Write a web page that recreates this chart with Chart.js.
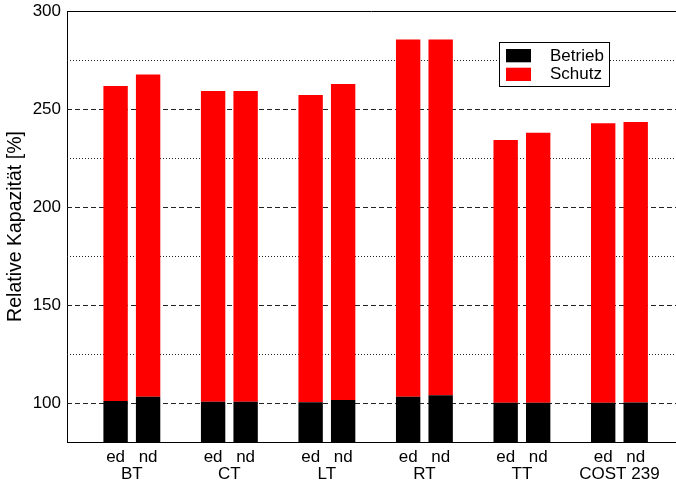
<!DOCTYPE html>
<html>
<head>
<meta charset="utf-8">
<script src="https://cdn.jsdelivr.net/npm/chart.js@4/dist/chart.umd.min.js"></script>
<style>
  html, body { margin: 0; padding: 0; background: #fff; }
  #wrap { width: 676px; height: 485px; }
</style>
</head>
<body>
<div id="wrap"><canvas id="chart" width="676" height="485"></canvas></div>
<script>
// data
const groups = ['BT', 'CT', 'LT', 'RT', 'TT', 'COST 239'];
const variants = ['ed', 'nd'];
const betriebEd = [100.9, 100.5, 100.3, 103.1, 100.0, 100.0];
const betriebNd = [103.1, 100.5, 101.5, 103.8, 100.0, 100.2];
const schutzEd = [160.8, 158.7, 156.8, 182.3, 134.2, 142.7];
const schutzNd = [164.5, 158.7, 161.2, 181.6, 137.9, 143.2];
const yTicks = [100, 150, 200, 250, 300];
const yMinor = [125, 175, 225, 275];

const FONT = '"Liberation Sans", Arial, Helvetica, sans-serif';
Chart.defaults.font.family = FONT;
Chart.defaults.color = '#000';

// x position of each bar: group index, ed slightly left, nd slightly right
const barX = (i, v) => i + 1 + (v === 0 ? -1 / 6 : 1 / 6);
const toPoints = (ed, nd) => groups.flatMap((g, i) => [
    { x: barX(i, 0), y: ed[i] },
    { x: barX(i, 1), y: nd[i] }
]);
const barTicks = groups.flatMap((g, i) => [barX(i, 0), barX(i, 1)]);

const gridPlugin = {
    id: 'matlabGrid',
    beforeDatasetsDraw(chart) {
        const { ctx, chartArea } = chart;
        const y = chart.scales.y;
        ctx.save();
        ctx.lineWidth = 1;
        ctx.strokeStyle = '#222';
        yTicks.filter(v => v < 300).forEach(v => {
            const py = Math.round(y.getPixelForValue(v)) + 0.5;
            ctx.setLineDash([5, 3]);
            ctx.beginPath();
            ctx.moveTo(chartArea.left, py);
            ctx.lineTo(chartArea.right, py);
            ctx.stroke();
        });
        yMinor.forEach(v => {
            const py = Math.round(y.getPixelForValue(v)) + 0.5;
            ctx.setLineDash([1, 2]);
            ctx.beginPath();
            ctx.moveTo(chartArea.left, py);
            ctx.lineTo(chartArea.right, py);
            ctx.stroke();
        });
        // top frame
        ctx.setLineDash([]);
        ctx.strokeStyle = '#000';
        const top = Math.round(y.getPixelForValue(300)) + 0.5;
        ctx.beginPath();
        ctx.moveTo(chartArea.left, top);
        ctx.lineTo(chartArea.right, top);
        ctx.stroke();
        ctx.restore();
    },
    afterDraw(chart) {
        // legend box in the upper right
        const { ctx } = chart;
        ctx.save();
        ctx.fillStyle = '#fff';
        ctx.fillRect(499.5, 42.5, 110, 44);
        ctx.strokeStyle = '#000';
        ctx.lineWidth = 1;
        ctx.strokeRect(499.5, 42.5, 110, 44);
        chart.data.datasets.forEach((ds, k) => {
            const yy = 49 + k * 18.7;
            ctx.fillStyle = ds.backgroundColor;
            ctx.fillRect(506, yy, 25, 13.3);
            ctx.fillStyle = '#000';
            ctx.font = '17px ' + FONT;
            ctx.textBaseline = 'middle';
            ctx.textAlign = 'left';
            ctx.fillText(ds.label, 550, yy + 7);
        });
        ctx.restore();
    }
};

new Chart(document.getElementById('chart'), {
    type: 'bar',
    data: {
        datasets: [{
            label: 'Betrieb',
            data: toPoints(betriebEd, betriebNd),
            backgroundColor: '#000000',
            borderWidth: 0
        }, {
            label: 'Schutz',
            data: toPoints(schutzEd, schutzNd),
            backgroundColor: '#ff0000',
            borderWidth: 0
        }]
    },
    options: {
        responsive: false,
        animation: false,
        barPercentage: 0.75,
        categoryPercentage: 1,
        layout: { padding: { top: 11, right: 0, bottom: 0, left: 0 } },
        plugins: {
            legend: { display: false },
            tooltip: { enabled: false }
        },
        scales: {
            x: {
                type: 'linear',
                stacked: true,
                offset: false,
                min: 0.335,
                max: 6.58,
                position: 'bottom',
                weight: 0,
                afterBuildTicks: s => { s.ticks = barTicks.map(v => ({ value: v })); },
                afterFit: s => { s.height = 23; s.paddingLeft = 0; s.paddingRight = 0; },
                ticks: {
                    callback: (v, i) => variants[i % 2],
                    font: { size: 17, lineHeight: 1 },
                    padding: 7,
                    maxRotation: 0,
                    autoSkip: false
                },
                grid: { display: false, drawTicks: false, offset: false },
                border: { display: true, color: '#000', width: 1 }
            },
            x2: {
                type: 'linear',
                offset: false,
                min: 0.335,
                max: 6.58,
                position: 'bottom',
                weight: 1,
                afterBuildTicks: s => { s.ticks = groups.map((g, i) => ({ value: i + 1 })); },
                afterFit: s => { s.height = 20; s.paddingLeft = 0; s.paddingRight = 0; },
                ticks: {
                    callback: (v, i) => groups[i],
                    font: { size: 17, lineHeight: 1 },
                    padding: 1,
                    maxRotation: 0,
                    autoSkip: false
                },
                grid: { display: false, drawTicks: false },
                border: { display: false }
            },
            y: {
                stacked: true,
                min: 80,
                max: 300,
                afterBuildTicks: s => { s.ticks = yTicks.map(v => ({ value: v })); },
                afterFit: s => { s.width = 67; s.paddingTop = 0; s.paddingBottom = 0; },
                ticks: {
                    font: { size: 17 },
                    padding: 6
                },
                grid: { display: false, drawTicks: false },
                border: { display: true, color: '#000', width: 1 },
                title: {
                    display: true,
                    text: 'Relative Kapazität [%]',
                    font: { size: 19.5 },
                    padding: { top: 4, bottom: 4 }
                }
            }
        }
    },
    plugins: [gridPlugin]
});
</script>
</body>
</html>
